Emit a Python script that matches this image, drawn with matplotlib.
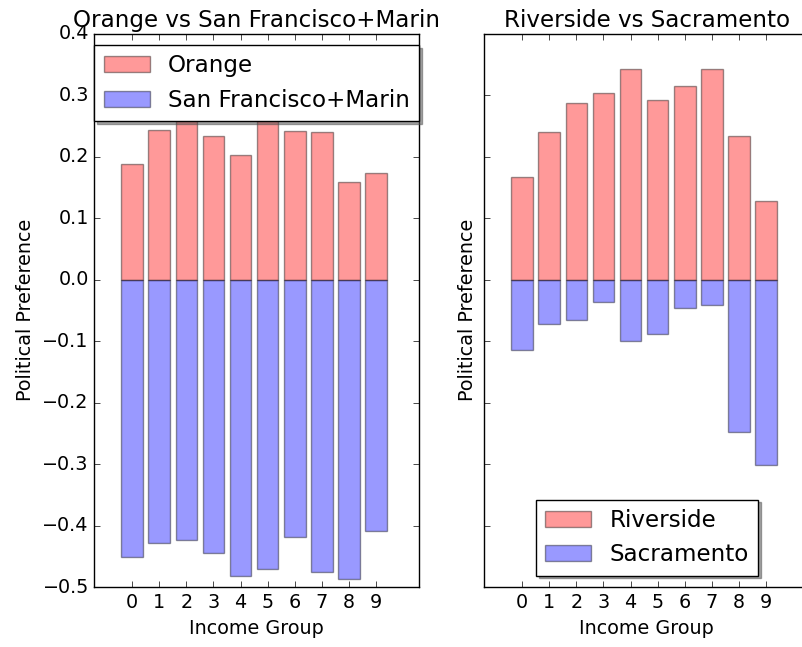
import matplotlib
matplotlib.use("Agg")
import matplotlib.pyplot as plt
import numpy as np

plt.style.use("classic")
plt.rcParams["font.size"] = 13.8

groups = np.arange(10)

orange = [0.188, 0.243, 0.275, 0.234, 0.202, 0.272, 0.242, 0.240, 0.159, 0.174]
sf_marin = [-0.451, -0.428, -0.424, -0.445, -0.482, -0.471, -0.418, -0.475, -0.487, -0.409]

riverside = [0.167, 0.240, 0.287, 0.304, 0.343, 0.292, 0.315, 0.343, 0.233, 0.128]
sacramento = [-0.115, -0.073, -0.066, -0.036, -0.100, -0.088, -0.047, -0.042, -0.248, -0.302]

fig = plt.figure(figsize=(8.02, 6.47), dpi=100, facecolor="white")
ax1 = fig.add_axes([0.1176, 0.0927, 0.4052, 0.8555])
ax2 = fig.add_axes([0.6039, 0.0927, 0.4052, 0.8555], sharey=ax1)

pairs = [
    (ax1, orange, sf_marin, "Orange", "San Francisco+Marin", "upper center"),
    (ax2, riverside, sacramento, "Riverside", "Sacramento", "lower center"),
]
for ax, pos, neg, name_a, name_b, loc in pairs:
    ax.bar(groups, pos, width=0.8, align="center", color="r", alpha=0.4, label=name_a)
    ax.bar(groups, neg, width=0.8, align="center", color="b", alpha=0.4, label=name_b)
    ax.set_title(f"{name_a} vs {name_b}")
    ax.set_xlabel("Income Group")
    ax.set_ylabel("Political Preference")
    ax.set_xticks(groups)
    ax.set_xlim(-1.4, 10.6)
    ax.legend(loc=loc, shadow=True, fontsize="large")

ax1.set_ylim(-0.5, 0.4)
ax2.tick_params(labelleft=False)

fig.savefig("out.png", dpi=100, facecolor="white")
